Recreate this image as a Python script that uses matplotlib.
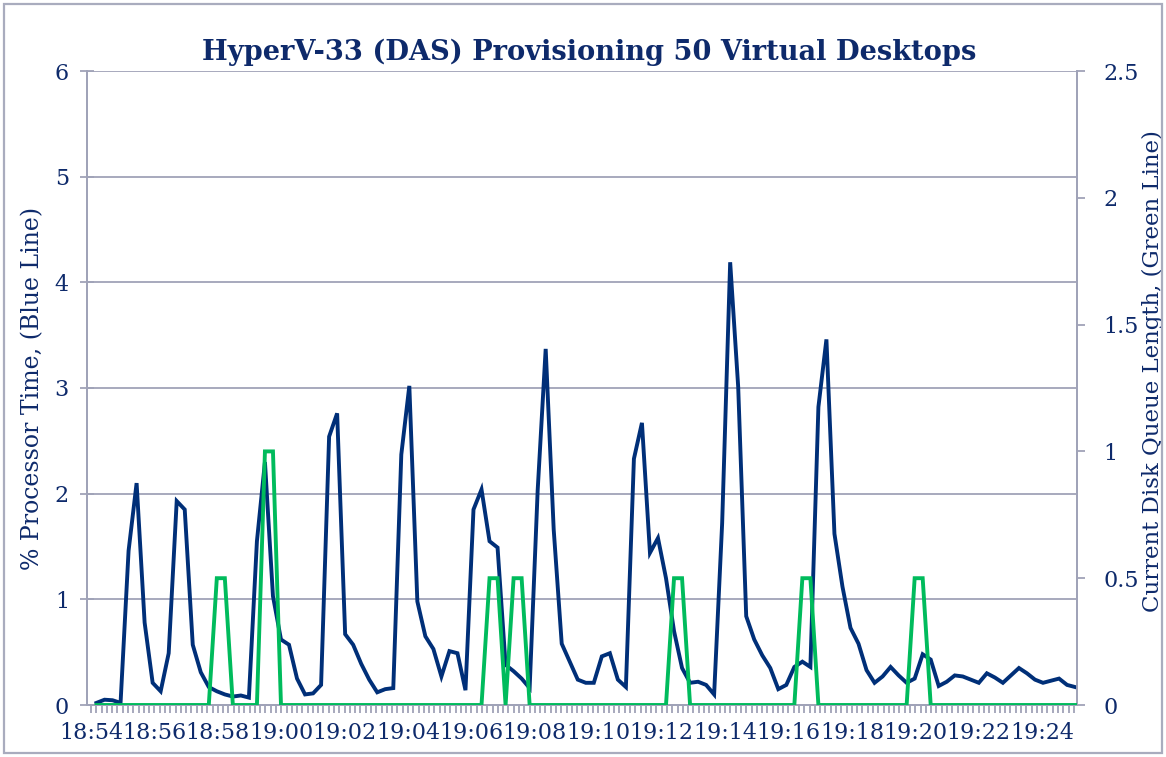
import numpy as np
import matplotlib
matplotlib.use("Agg")
import matplotlib.pyplot as plt
from matplotlib.patches import Rectangle
from matplotlib.ticker import FixedLocator, MultipleLocator, FuncFormatter

# % Processor Time samples (blue line, left axis)
cpu_time = [0.02, 0.05, 0.045, 0.02, 1.46, 2.10, 0.78, 0.21, 0.13, 0.49,
            1.93, 1.85, 0.57, 0.31, 0.17, 0.13, 0.10, 0.08, 0.09, 0.07,
            1.55, 2.30, 1.03, 0.62, 0.57, 0.25, 0.10, 0.11, 0.19, 2.54,
            2.76, 0.67, 0.57, 0.39, 0.24, 0.12, 0.15, 0.16, 2.37, 3.02,
            0.98, 0.65, 0.53, 0.27, 0.51, 0.49, 0.14, 1.85, 2.04, 1.55,
            1.49, 0.38, 0.32, 0.25, 0.16, 2.03, 3.37, 1.66, 0.58, 0.41,
            0.24, 0.21, 0.21, 0.46, 0.49, 0.24, 0.17, 2.33, 2.67, 1.44,
            1.58, 1.20, 0.70, 0.35, 0.21, 0.22, 0.19, 0.10, 1.72, 4.19,
            3.01, 0.84, 0.62, 0.47, 0.35, 0.15, 0.19, 0.36, 0.41, 0.36,
            2.82, 3.46, 1.62, 1.12, 0.73, 0.58, 0.33, 0.21, 0.27, 0.36,
            0.28, 0.21, 0.25, 0.48, 0.43, 0.18, 0.22, 0.28, 0.27, 0.24,
            0.21, 0.30, 0.26, 0.21, 0.28, 0.35, 0.30, 0.24, 0.21, 0.23,
            0.25, 0.19, 0.17]

# Current Disk Queue Length samples (green line, right axis)
disk_queue = [0, 0, 0, 0, 0, 0, 0, 0, 0, 0,
              0, 0, 0, 0, 0, 0.5, 0.5, 0, 0, 0,
              0, 1, 1, 0, 0, 0, 0, 0, 0, 0,
              0, 0, 0, 0, 0, 0, 0, 0, 0, 0,
              0, 0, 0, 0, 0, 0, 0, 0, 0, 0.5,
              0.5, 0, 0.5, 0.5, 0, 0, 0, 0, 0, 0,
              0, 0, 0, 0, 0, 0, 0, 0, 0, 0,
              0, 0, 0.5, 0.5, 0, 0, 0, 0, 0, 0,
              0, 0, 0, 0, 0, 0, 0, 0, 0.5, 0.5,
              0, 0, 0, 0, 0, 0, 0, 0, 0, 0,
              0, 0, 0.5, 0.5, 0, 0, 0, 0, 0, 0,
              0, 0, 0, 0, 0, 0, 0, 0, 0, 0,
              0, 0, 0]

# time axis labels (every 2 minutes from 18:54)
tick_labels = ["18:54", "18:56", "18:58", "19:00", "19:02", "19:04", "19:06", "19:08",
               "19:10", "19:12", "19:14", "19:16", "19:18", "19:20", "19:22", "19:24"]

title = "HyperV-33 (DAS) Provisioning 50 Virtual Desktops"

navy = "#0E2A6B"
blue = "#002F78"
green = "#00BB5C"
grey = "#A0A3B8"

# sample times in minutes after 18:54 (perfmon ~15 s interval)
t_start = 0.1735
t_step = 0.253
t = t_start + t_step * np.arange(len(cpu_time))

W, H = 1166, 757
fig = plt.figure(figsize=(W / 100, H / 100), dpi=100)
ax = fig.add_axes([87 / W, 52 / H, 990 / W, 634 / H])
ax2 = ax.twinx()

fig.patches.append(Rectangle((4 / W, 4 / H), 1158 / W, 749 / H, transform=fig.transFigure,
                             fill=False, ec="#A9ACBE", lw=1.6))

ax.plot(t, cpu_time, color=blue, lw=2.8, solid_joinstyle="miter", zorder=3)
ax2.plot(t, disk_queue, color=green, lw=2.8, solid_joinstyle="miter", zorder=3)

ax.set_xlim(-0.126, 31.1)
ax.set_ylim(0, 6)
ax2.set_ylim(0, 2.5)

ax.set_yticks(range(0, 7))
ax.yaxis.grid(True, color=grey, lw=1.3)
ax.set_axisbelow(True)
ax2.set_yticks([0, 0.5, 1, 1.5, 2, 2.5])
ax2.yaxis.set_major_formatter(FuncFormatter(lambda v, p: "%g" % v))

ax.xaxis.set_major_locator(FixedLocator(np.arange(0, 31, 2)))
ax.set_xticklabels(tick_labels)
ax.xaxis.set_minor_locator(MultipleLocator(1 / 6))

for a in (ax, ax2):
    for s in a.spines.values():
        s.set_color(grey)
        s.set_linewidth(1.3)
    a.spines["top"].set_visible(False)

ax.tick_params(axis="x", which="both", direction="out", length=6, width=1.3, color=grey,
               labelsize=16, labelcolor=navy, pad=6)
ax.tick_params(axis="y", direction="inout", length=10, width=1.3, color=grey,
               labelsize=16, labelcolor=navy, pad=8)
ax2.tick_params(axis="y", direction="out", length=6, width=1.3, color=grey,
                labelsize=16, labelcolor=navy, pad=13)

for lab in ax.get_xticklabels() + ax.get_yticklabels() + ax2.get_yticklabels():
    lab.set_family("DejaVu Serif")

ax.set_ylabel("% Processor Time, (Blue Line)", family="DejaVu Serif", fontsize=17,
              color=navy, va="center", ha="center")
ax.yaxis.set_label_coords(-0.055, 0.5)
ax2.set_ylabel("Current Disk Queue Length, (Green Line)", family="DejaVu Serif", fontsize=16.5,
               color=navy, va="center", ha="center", rotation=90)
ax2.yaxis.set_label_coords(1.077, 0.527)

fig.text(589 / W, 1 - 52 / H, title, ha="center", va="center", family="DejaVu Serif",
         weight="bold", fontsize=19.6, color=navy)

fig.savefig("out.png", dpi=100)
